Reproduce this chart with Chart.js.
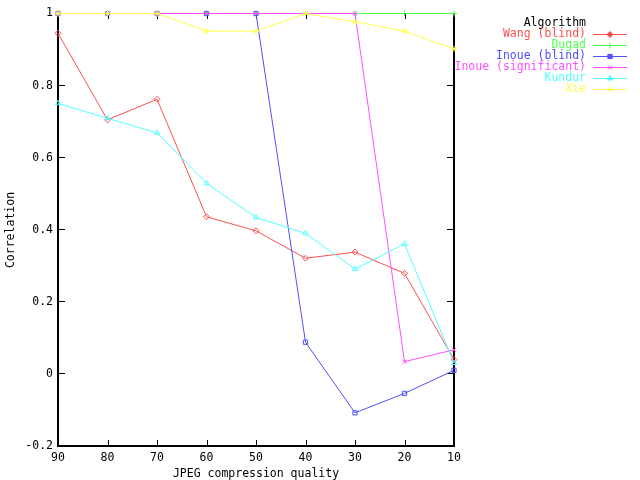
<!DOCTYPE html>
<html>
<head>
<meta charset="utf-8">
<script src="https://cdn.jsdelivr.net/npm/chart.js@4/dist/chart.umd.min.js"></script>
<style>
  html, body { margin: 0; padding: 0; background: #fff; }
  #wrap { width: 640px; height: 480px; }
</style>
</head>
<body>
<div id="wrap"><canvas id="corrChart" width="640" height="480"></canvas></div>
<script>
// data
const qualities = ["90", "80", "70", "60", "50", "40", "30", "20", "10"];
const yTicks = [-0.2, 0, 0.2, 0.4, 0.6, 0.8, 1];

const wang      = [0.945, 0.705, 0.762, 0.436, 0.397, 0.321, 0.338, 0.279, 0.04];
const dugad     = [1, 1, 1, 1, 1, 1, 1, 1, 1];
const inoueB    = [1, 1, 1, 1, 1, 0.088, -0.108, -0.054, 0.010];
const inoueS    = [1, 1, 1, 1, 1, 1, 1, 0.034, 0.067];
const kundur    = [0.751, 0.709, 0.669, 0.529, 0.434, 0.390, 0.291, 0.361, 0.03];
const xie       = [1, 1, 1, 0.951, 0.951, 1, 0.977, 0.951, 0.902];

const seriesNames = ["Wang (blind)", "Dugad", "Inoue (blind)", "Inoue (significant)", "Kundur", "Xie"];
const seriesData = [wang, dugad, inoueB, inoueS, kundur, xie];
const colors = ["#ff5050", "#50ff50", "#5050ff", "#ff50ff", "#50ffff", "#ffff50"];
const markers = ["rectRot", "cross", "rect", "crossRot", "triangle", "star"];

const FONT = "DejaVu Sans Mono";

const datasets = seriesNames.map((name, i) => ({
    label: name,
    data: seriesData[i],
    borderColor: colors[i],
    backgroundColor: "transparent",
    borderWidth: 1,
    pointStyle: markers[i],
    pointRadius: 3,
    pointBorderWidth: 1,
    pointBorderColor: colors[i],
    pointBackgroundColor: "transparent",
    tension: 0,
    clip: false,
    order: seriesNames.length - i, // later series drawn on top
}));

// frame + inward ticks (gnuplot look); top edge is hidden under the y=1 lines
const framePlugin = {
    id: "frame",
    beforeDatasetsDraw(chart) {
        const { ctx, chartArea: a, scales } = chart;
        const L = Math.round(a.left), R = Math.round(a.right);
        const T = Math.floor(a.top), B = Math.round(a.bottom);
        ctx.save();
        ctx.strokeStyle = "#000";
        ctx.lineWidth = 1;
        ctx.beginPath();
        scales.y.ticks.forEach((t) => {
            const y = Math.floor(scales.y.getPixelForValue(t.value)) + 0.5;
            ctx.moveTo(L, y); ctx.lineTo(L + 7, y);
            ctx.moveTo(R, y); ctx.lineTo(R - 7, y);
        });
        qualities.forEach((q, i) => {
            const x = Math.round(scales.x.getPixelForValue(i)) + 0.5;
            ctx.moveTo(x, B); ctx.lineTo(x, B - 6);
            ctx.moveTo(x, T); ctx.lineTo(x, T + 6);
        });
        ctx.stroke();
        ctx.lineWidth = 2;
        ctx.beginPath();
        ctx.moveTo(L, T); ctx.lineTo(L, B); ctx.lineTo(R, B); ctx.lineTo(R, T);
        ctx.stroke();
        ctx.restore();
    },
    afterDraw(chart) {
        const { ctx, chartArea: a } = chart;
        ctx.save();
        ctx.font = "11.5px '" + FONT + "'";
        ctx.fillStyle = "#000";
        ctx.textBaseline = "middle";
        // axis titles
        ctx.textAlign = "center";
        ctx.fillText("JPEG compression quality", (a.left + a.right) / 2, 474);
        ctx.save();
        ctx.translate(11, 230);
        ctx.rotate(-Math.PI / 2);
        ctx.fillText("Correlation", 0, 0);
        ctx.restore();
        // key
        ctx.textAlign = "right";
        ctx.fillText("Algorithm", 586, 23);
        seriesNames.forEach((name, i) => {
            const y = 34 + i * 11;
            ctx.fillStyle = colors[i];
            ctx.fillText(name, 586, y);
            ctx.strokeStyle = colors[i];
            ctx.lineWidth = 1;
            ctx.beginPath();
            ctx.moveTo(593, y + 0.5); ctx.lineTo(627, y + 0.5);
            ctx.stroke();
            if (Chart.helpers && Chart.helpers.drawPoint) {
                Chart.helpers.drawPoint(ctx, { pointStyle: markers[i], radius: 3, borderWidth: 1 }, 610, y + 0.5);
            }
        });
        ctx.restore();
    },
};

new Chart(document.getElementById("corrChart"), {
    type: "line",
    data: { labels: qualities, datasets: datasets },
    options: {
        responsive: false,
        animation: false,
        events: [],
        layout: { padding: { left: 0, top: 13.5, right: 186, bottom: 0 } },
        plugins: {
            legend: { display: false },
            tooltip: { enabled: false },
        },
        scales: {
            x: {
                type: "category",
                offset: false,
                grid: { display: false, drawTicks: false },
                border: { display: false },
                ticks: {
                    color: "#000",
                    font: { family: FONT, size: 11.5 },
                    padding: 5,
                    autoSkip: false,
                    maxRotation: 0,
                },
                afterFit(scale) { scale.height = 34; },
            },
            y: {
                min: -0.2,
                max: 1,
                afterBuildTicks(scale) { scale.ticks = yTicks.map((v) => ({ value: v })); },
                grid: { display: false, drawTicks: false },
                border: { display: false },
                ticks: {
                    color: "#000",
                    font: { family: FONT, size: 11.5 },
                    padding: 5,
                    callback: (v) => String(Math.round(v * 10) / 10),
                },
                afterFit(scale) { scale.width = 58; },
            },
        },
    },
    plugins: [framePlugin],
});
</script>
</body>
</html>
